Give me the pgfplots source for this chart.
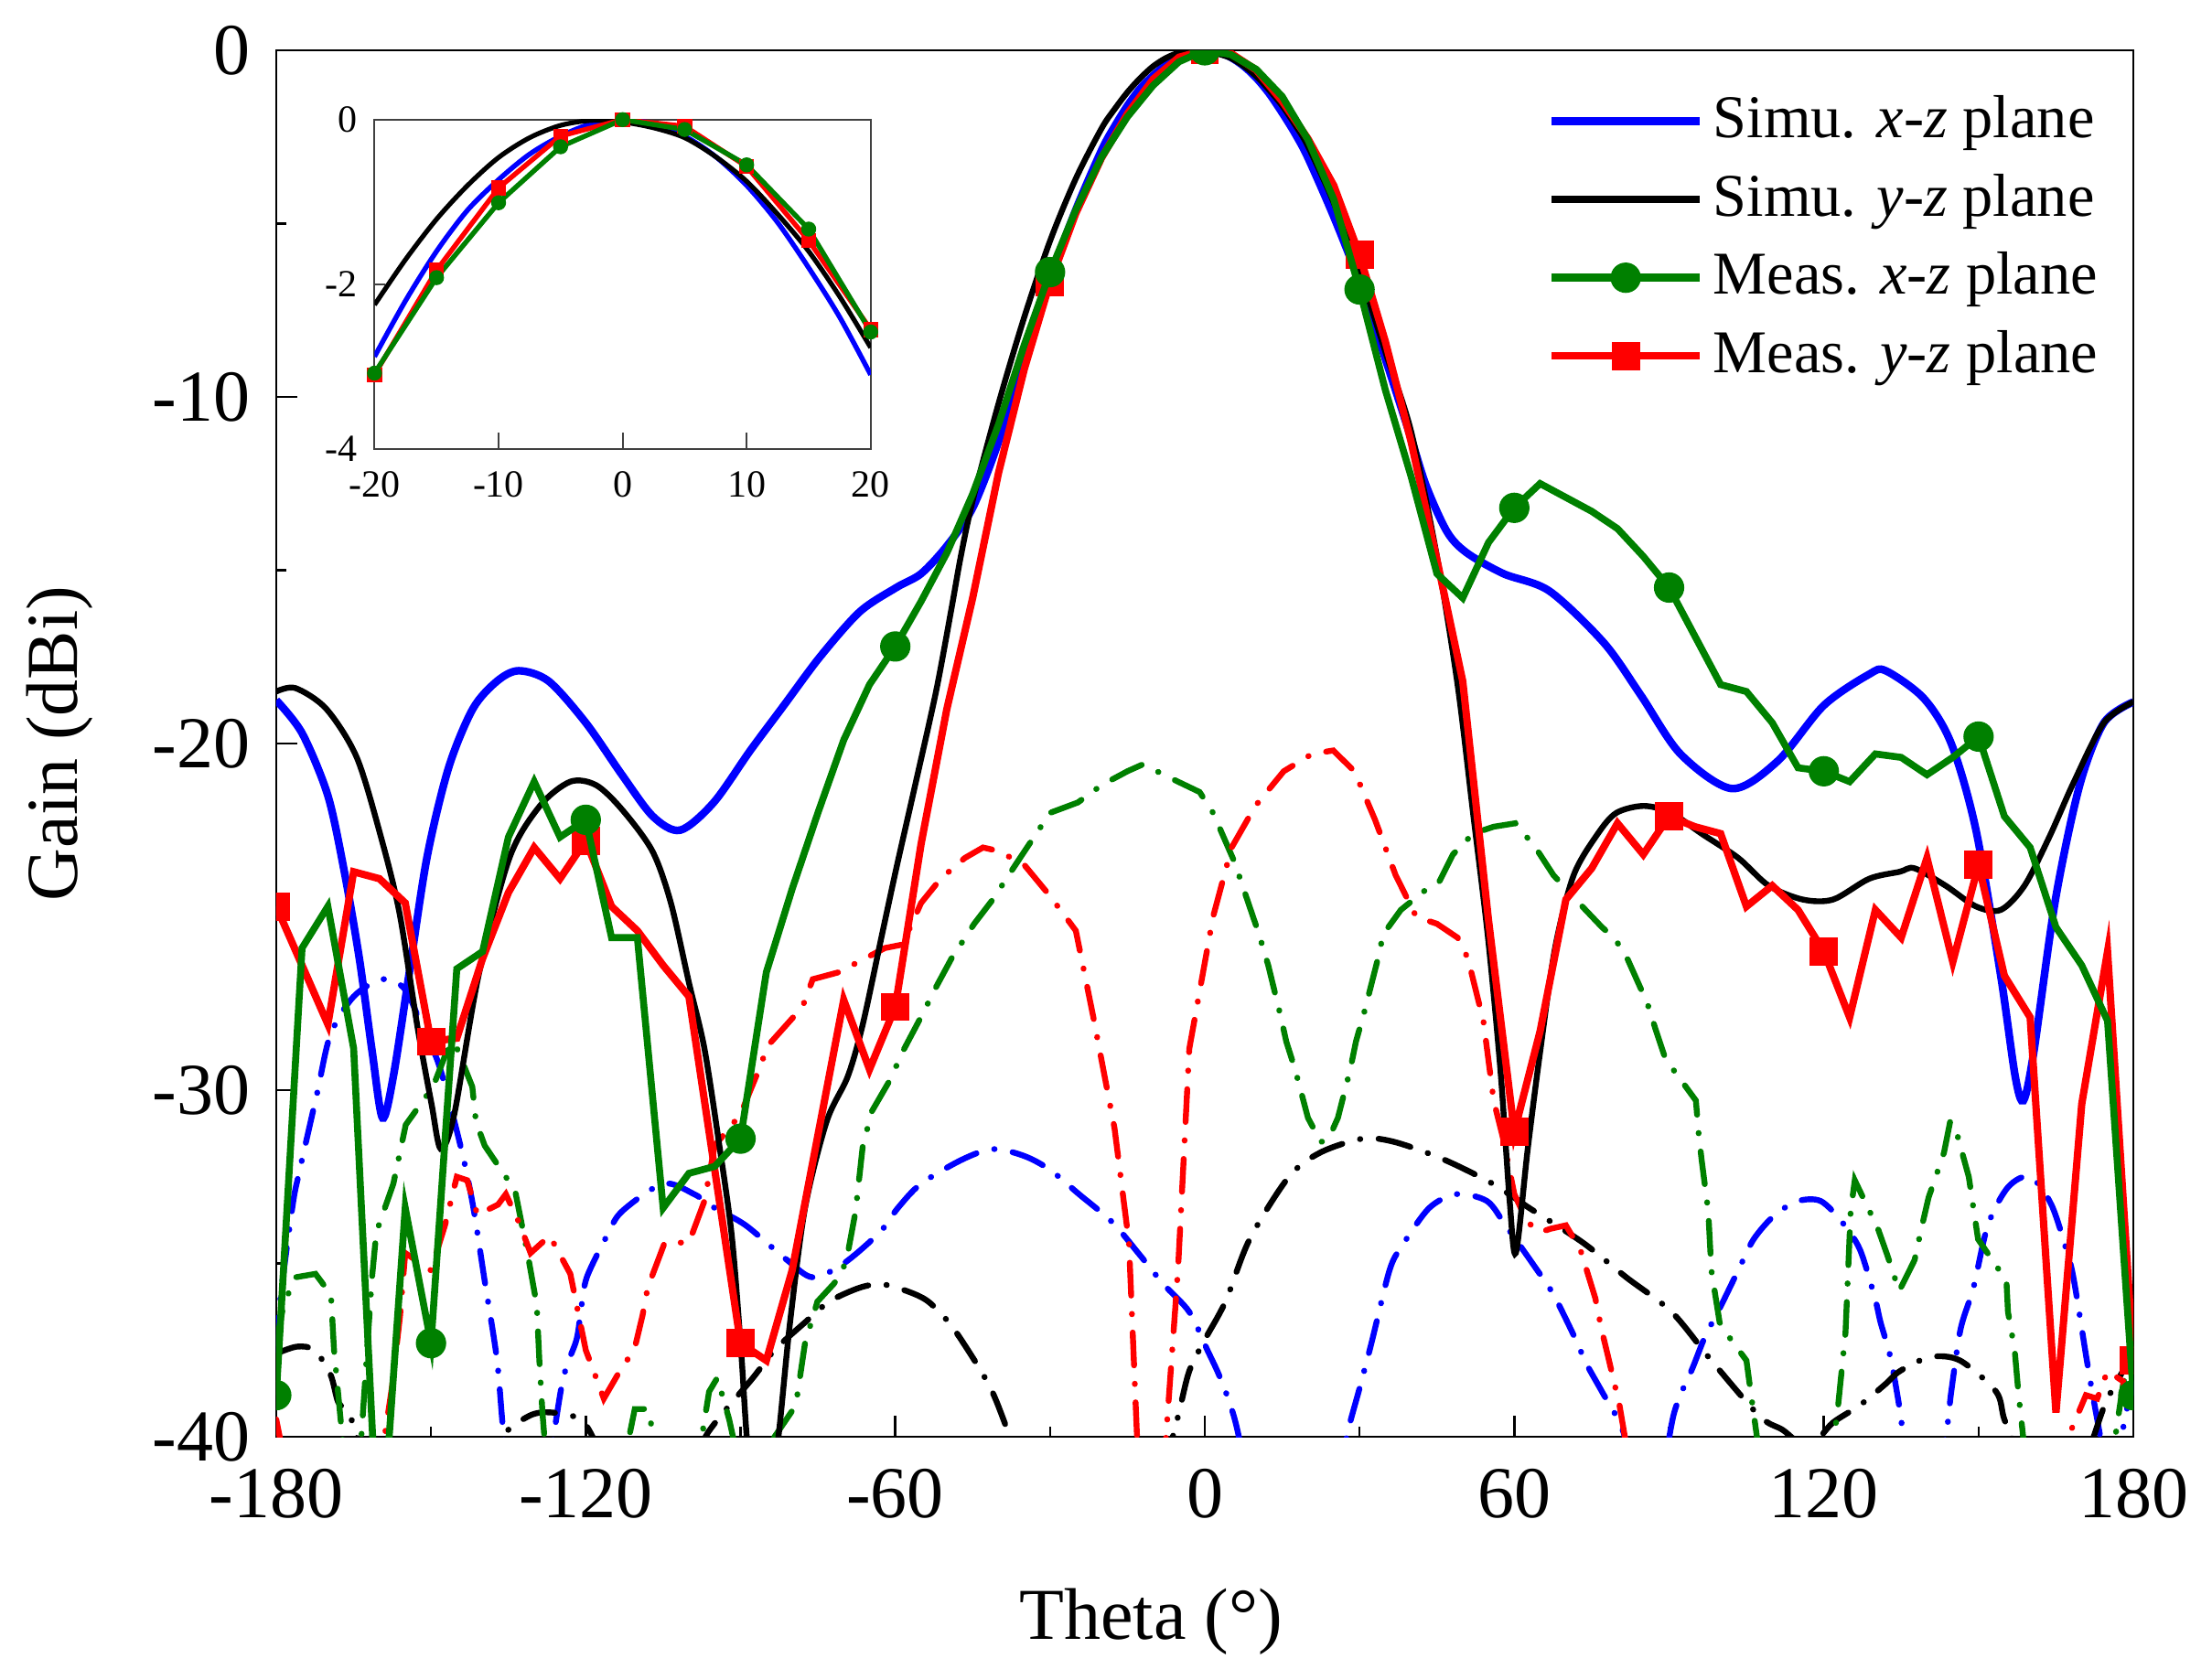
\documentclass[border=0pt]{standalone}
\usepackage{fontspec}
\setmainfont{Liberation Serif}
\usepackage{pgfplots}
\pgfplotsset{compat=1.18}
\usepackage{pgfplotstable}

\definecolor{cblue}{RGB}{0,0,255}
\definecolor{cred}{RGB}{255,0,0}
\definecolor{cgreen}{RGB}{0,128,0}

% Simulated co-pol, x-z plane
\pgfplotstableread{
x y
-180 -18.75
-175 -19.7
-170 -21.5
-166.8 -23.7
-163.9 -26.2
-161.4 -28.9
-159.4 -30.8
-157.3 -29.6
-154.3 -26.7
-150.8 -23.3
-146.6 -20.7
-141.9 -19.0
-137.2 -18.2
-133 -17.9
-127.2 -18.2
-120 -19.4
-113 -20.9
-107 -22.1
-101.7 -22.5
-95.2 -21.7
-88.1 -20.2
-81.6 -18.9
-74.6 -17.5
-66.9 -16.2
-59.8 -15.5
-55 -15.1
-50 -14.3
-45 -13.2
-40 -11.3
-35 -8.9
-30 -6.6
-25 -4.6
-20 -2.88
-17.5 -2.2
-15 -1.6
-12.5 -1.1
-10 -0.73
-7.5 -0.42
-5 -0.2
-2.5 -0.05
0 0
2.5 -0.05
5 -0.2
7.5 -0.45
10 -0.8
12.5 -1.25
15 -1.8
17.5 -2.4
20 -3.1
25 -4.8
30 -6.7
35 -8.9
40 -11.2
43 -12.6
47 -13.9
50.8 -14.5
57.9 -15.1
66.8 -15.6
77.4 -17.1
84.5 -18.6
92.2 -20.3
102.2 -21.3
111.1 -20.5
120 -18.9
128.8 -18.0
132 -17.9
139.4 -18.7
144.7 -20.0
149.5 -22.5
154.3 -26.7
157.1 -29.6
158.7 -30.3
160.7 -28.9
164.9 -24.5
169.6 -21.2
174.3 -19.4
180 -18.8
}\simxz

% Simulated co-pol, y-z plane
\pgfplotstableread{
x y
-180 -18.5
-176.3 -18.4
-170.3 -19.0
-164.4 -20.4
-159.7 -22.7
-156.1 -24.9
-152.6 -28.2
-149.9 -30.4
-148.1 -31.7
-145.5 -30.7
-140.8 -26.7
-134.8 -23.3
-128.9 -21.8
-123 -21.1
-118 -21.2
-113 -21.9
-107.1 -23.1
-103.5 -24.6
-100 -26.9
-97 -28.8
-94.1 -31.6
-91.7 -34.2
-89.9 -37.5
-88.5 -40.5
-86 -43
-84 -41.5
-82.5 -39.8
-80.4 -36.7
-77.5 -33.4
-73.3 -30.9
-69.2 -29.6
-66.3 -28.1
-62.7 -25.6
-59.8 -23.6
-56.3 -21.3
-52.1 -18.5
-49.1 -16.1
-47.3 -14.6
-45 -13.0
-40 -10.2
-35 -7.7
-30 -5.5
-25 -3.7
-20 -2.25
-17.5 -1.7
-15 -1.21
-12.5 -0.8
-10 -0.46
-7.5 -0.22
-5 -0.07
-2.5 -0.01
0 -0.03
2.5 -0.1
5 -0.22
7.5 -0.45
10 -0.75
12.5 -1.15
15 -1.6
17.5 -2.15
20 -2.77
25 -4.4
30 -6.4
35 -8.7
40 -11.0
45 -14.6
49 -18.3
52 -22.0
54.9 -25.6
57.3 -29.4
59.1 -33.2
60.3 -34.7
62.6 -31.7
65 -28.9
67.9 -25.9
71.5 -23.8
76.2 -22.6
79.8 -22.0
85.1 -21.8
90.4 -22.0
96.3 -22.6
103.4 -23.3
109.3 -24.1
115.9 -24.5
121.8 -24.5
128.8 -23.9
134.7 -23.7
137.6 -23.6
143.6 -24.1
149.5 -24.7
154.3 -24.8
158.9 -24.1
163.7 -22.7
168.5 -21.1
174.3 -19.4
180 -18.8
}\simyz

% Measured co-pol, x-z plane
\pgfplotstableread{
x y
-180 -38.8
-175 -25.9
-170 -24.7
-165 -28.8
-160 -44
-155 -33.4
-150 -37.3
-145 -26.5
-140 -26.0
-135 -22.7
-130 -21.1
-125 -22.7
-120 -22.2
-115 -25.6
-110 -25.6
-105 -33.4
-100 -32.4
-95 -32.2
-90 -31.4
-85 -26.6
-80 -24.2
-75 -22.0
-70 -19.9
-65 -18.3
-60 -17.2
-55 -15.9
-50 -14.5
-45 -12.8
-40 -10.8
-35 -8.5
-30 -6.4
-25 -4.6
-20 -3.08
-15 -1.92
-10 -1.01
-5 -0.33
0 0
5 -0.12
10 -0.55
15 -1.33
20 -2.58
25 -4.3
30 -6.9
35 -9.8
40 -12.3
45 -15.1
50 -15.8
55 -14.2
60 -13.2
65 -12.5
70 -12.9
75 -13.3
80 -13.8
85 -14.6
90 -15.5
95 -16.9
100 -18.3
105 -18.5
110 -19.4
115 -20.7
120 -20.8
125 -21.1
130 -20.3
135 -20.4
140 -20.9
145 -20.4
150 -19.8
155 -22.1
160 -23.0
165 -25.3
170 -26.4
175 -28.0
180 -38.8
}\measxz

% Measured co-pol, y-z plane
\pgfplotstableread{
x y
-180 -24.7
-175 -26.4
-170 -28.1
-165 -23.7
-160 -23.9
-155 -24.6
-150 -28.6
-145 -28.5
-140 -26.2
-135 -24.3
-130 -23.0
-125 -23.9
-120 -22.8
-115 -24.7
-110 -25.4
-105 -26.4
-100 -27.3
-95 -32.3
-90 -37.3
-85 -37.8
-80 -35.2
-75 -31.3
-70 -27.4
-65 -29.4
-60 -27.6
-55 -22.9
-50 -19.0
-45 -15.8
-40 -12.2
-35 -9.2
-30 -6.7
-25 -4.7
-20 -3.1
-15 -1.83
-10 -0.83
-5 -0.2
0 0
5 -0.08
10 -0.57
15 -1.47
20 -2.55
25 -3.9
30 -5.9
35 -8.4
40 -11.3
45 -14.7
50 -18.2
55 -25.1
60 -31.2
65 -28.3
70 -24.5
75 -23.6
80 -22.3
85 -23.2
90 -22.1
95 -22.4
100 -22.6
105 -24.7
110 -24.1
115 -24.8
120 -26.0
125 -27.9
130 -24.8
135 -25.6
140 -23.3
145 -26.3
150 -23.5
155 -26.7
160 -27.9
165 -39.3
170 -30.4
175 -26.0
180 -37.8
}\measyz

% Cross-pol: simulated x-z
\pgfplotstableread{
x y
-180 -37.5
-179.2 -36.0
-176.8 -33.3
-175.6 -32.4
-172.1 -30.1
-169.5 -28.4
-165 -27.3
-159.4 -26.8
-155 -27.1
-151.4 -28.3
-148.4 -29.3
-144.3 -31.6
-141.9 -33.3
-139.6 -35.5
-137.2 -37.8
-135.5 -40.5
-132 -43
-128 -41.5
-124.5 -38.4
-121.8 -37.2
-120.9 -36.3
-119.8 -35.4
-115.9 -34.2
-113 -33.5
-105 -32.7
-99 -33.0
-95 -33.4
-89 -33.9
-81 -34.9
-76 -35.4
-70 -35.0
-63 -34.1
-59.5 -33.4
-55 -32.7
-47 -32.0
-41 -31.7
-35 -31.9
-30 -32.3
-24.4 -33.0
-18 -33.8
-12.9 -34.7
-8 -35.6
-3 -36.4
0.5 -37.5
2.7 -38.2
5 -39.1
6.6 -40
9 -42
18 -44
26 -41.5
27.5 -40
30 -38.6
32.3 -37.3
35.8 -35.2
38.2 -34.5
43.5 -33.4
48.8 -33.0
54.7 -33.2
58.3 -33.9
64 -35.1
67.6 -35.9
71.6 -37.1
74 -37.9
77 -38.7
81 -39.8
84 -41.5
88 -41.5
91 -39.3
94.6 -38.0
97 -37.1
99.8 -36.3
103.4 -35.2
106.4 -34.3
110.5 -33.6
115 -33.2
119.4 -33.2
123.5 -33.8
127 -34.6
129.9 -36.0
131 -36.7
132.9 -37.7
134.6 -39.1
136.5 -41
140 -42.5
143.6 -40
144.7 -38.7
146.5 -36.9
149 -35.7
151.8 -33.9
155.7 -32.8
160 -32.5
164.1 -33.3
167.2 -34.7
168.5 -35.5
171.1 -37.9
173 -39.5
175 -41
177 -40.5
178.6 -39.3
180 -38.5
}\crossxz

% Cross-pol: simulated y-z
\pgfplotstableread{
x y
-180 -37.6
-176 -37.4
-172.6 -37.5
-169.5 -38.2
-168 -39.0
-166 -39.3
-164.4 -40
-162 -41.5
-150 -44
-140 -42
-136.6 -40.1
-131 -39.4
-126.6 -39.3
-121 -39.5
-118 -40.2
-114 -41.5
-105 -42.5
-99 -41
-96.4 -39.9
-87.6 -38.3
-83.4 -37.5
-77.5 -36.7
-72.8 -36.1
-66.9 -35.7
-62.6 -35.6
-57.7 -35.8
-53.6 -36.1
-49.1 -36.8
-43.8 -38.0
-40.9 -38.8
-37.8 -40
-33 -42
-20 -44
-9 -42
-7 -40.5
-5 -39.3
-3 -38.1
0 -37.2
4 -36.1
8.7 -34.3
16.3 -32.5
22.4 -31.8
30.6 -31.4
36.9 -31.5
46.3 -32.0
55.8 -32.7
62.9 -33.4
73.3 -34.4
81.7 -35.4
90.5 -36.4
98.2 -37.8
107.5 -39.4
112 -39.8
117 -40.3
121.7 -39.6
126.9 -39.1
131.8 -38.5
134.8 -38.1
140.6 -37.7
146.4 -37.8
153.4 -38.7
155 -39.5
158 -40.5
165 -42
170 -41
172.3 -40
175 -38.9
180 -37.6
}\crossyz

% Cross-pol: measured x-z
\pgfplotstableread{
x y
-180 -37.3
-178.6 -36.2
-176.3 -35.4
-172.4 -35.3
-169.4 -35.9
-168.8 -37.5
-167.4 -39.7
-165.8 -42
-163.5 -40
-161.5 -35.5
-160.6 -34.1
-157.3 -32.7
-154.9 -31.0
-149.6 -29.9
-147 -28.9
-145.5 -28.6
-142 -29.9
-141.3 -30.9
-139.6 -31.6
-133.7 -32.9
-132.5 -33.8
-131.3 -34.7
-129.5 -36.2
-129 -37.8
-128.4 -39.3
-127.5 -41
-120 -42
-112 -40.3
-110.5 -39.2
-108 -39.2
-106 -40.5
-100 -41.5
-97.5 -40
-96.1 -38.7
-94.5 -38.3
-92.2 -39.5
-90 -41
-86 -41.5
-83.4 -40
-79.3 -39.1
-78.4 -38.2
-77.5 -37.3
-75.1 -36.1
-72 -35.6
-70.4 -35.3
-69.2 -34.7
-67.7 -33.5
-66.3 -31.6
-64.5 -30.6
-61 -29.7
-58.6 -28.9
-54.7 -27.8
-52 -27.0
-49.1 -26.2
-44.7 -25.2
-41.1 -24.5
-36.7 -23.5
-30 -22.0
-24.6 -21.7
-20 -21.2
-15 -20.8
-12 -20.6
-6.6 -21.0
-1 -21.4
1.6 -22.0
5.7 -23.4
10.5 -25.5
12.3 -26.4
14.6 -27.8
15.8 -28.6
17.5 -29.4
20 -30.8
22.5 -31.5
24 -31.4
25.8 -30.8
28.2 -29.4
29.3 -28.6
31 -27.7
33.4 -26.3
34.6 -25.5
38 -24.8
43 -24.2
45.4 -24.0
48.1 -23.2
52 -22.6
56 -22.4
60.2 -22.3
64.1 -23.0
67.6 -23.8
73.8 -24.8
77 -25.3
79.3 -25.6
81.6 -26.1
85.8 -27.5
87.5 -28.3
89.3 -29.1
95.2 -30.3
95.7 -31.2
96.3 -32.0
97.6 -33.5
98.2 -35.2
99.8 -36.7
102 -37.2
105 -37.8
106 -38.9
107.5 -40.5
115 -42
121 -40.5
122.5 -39.5
124.2 -37
125.2 -33.5
126 -32.6
130.5 -34
132.4 -34.8
134.6 -35.8
137.6 -34.9
138.9 -34
140.3 -33.1
143.3 -31.8
144.5 -30.9
145.7 -31.2
148.1 -32.5
149 -33.4
149.9 -34.3
155.4 -35.5
155.7 -36.4
157 -37.5
157.7 -38.7
159 -40.5
170 -42
176 -40.5
178 -38.5
180 -37.3
}\crossmxz

% Cross-pol: measured y-z
\pgfplotstableread{
x y
-180 -39.5
-178 -41
-170 -43
-160 -41
-157.5 -38.5
-156 -36.5
-155 -34.7
-150 -35.2
-147.3 -33.9
-145 -32.5
-143 -32.6
-141 -33.6
-137 -33.3
-135.5 -33.0
-133 -33.8
-130.7 -34.7
-127 -34.2
-123 -35.3
-120 -37.5
-116.5 -38.9
-113 -38.0
-110.6 -37.5
-109 -36.5
-108 -35.7
-104.7 -34.4
-100 -34.4
-97 -33.2
-95 -31.6
-90 -30.7
-86.7 -29.5
-84.6 -28.7
-78 -27.6
-76 -26.8
-71 -26.6
-62 -25.9
-58.6 -25.8
-55 -24.6
-51.2 -23.9
-46.5 -23.3
-43 -23.0
-40 -23.1
-35 -23.5
-30 -24.4
-25 -25.4
-21.6 -27.9
-17.5 -31.1
-14.7 -34.4
-13 -40.5
-11 -44
-8 -41
-5.2 -35.2
-3 -28.8
1.6 -25.0
5.2 -23.0
9.8 -21.8
15.3 -20.8
20.8 -20.3
24.9 -20.2
29 -20.8
33 -22.2
37 -23.8
41 -25.0
45 -25.2
49 -25.6
51 -26.2
54 -28.0
56 -30.3
58 -31.5
60 -33.0
62.5 -33.8
65 -34.1
67 -34.0
70 -33.9
72.8 -34.6
75.7 -36.0
76.9 -36.9
78.2 -37.7
80.4 -39.1
82 -40.5
90 -43
120 -44
160 -42
166 -40.5
170.8 -38.8
173 -38.9
175 -38.1
178 -38.4
180 -39.5
}\crossmyz

\tikzset{dashdot/.style={dash pattern=on 9pt off 5pt on 0.1pt off 5pt, line cap=round}}

\begin{document}
\begin{tikzpicture}
\begin{axis}[
  at={(0,0)}, anchor=south west,
  scale only axis, width=507.5pt, height=379pt,
  xmin=-180, xmax=180, ymin=-40, ymax=0,
  xtick={-180,-120,...,180}, minor xtick={-150,-90,-30,30,90,150},
  ytick={-40,-30,...,0}, minor ytick={-35,-25,-15,-5},
  tick align=inside, tick pos=left,
  major tick length=5.75pt, minor tick length=2.75pt,
  axis line style={line width=0.6pt},
  every tick/.style={black, line width=0.6pt},
  /pgf/number format/assume math mode=true,
  tick label style={font=\fontsize{20}{24}\selectfont},
  xticklabel style={inner sep=0pt, anchor=north, yshift=-8.5pt},
  yticklabel style={inner sep=0pt, anchor=east, xshift=-7pt},
  xlabel={Theta (°)}, ylabel={Gain (dBi)},
  every axis x label/.style={at={(axis description cs:0.471,-0.1332)}, anchor=center, font=\fontsize{20}{24}\selectfont},
  every axis y label/.style={at={(axis description cs:-0.1167,0.5)}, rotate=90, anchor=center, font=\fontsize{20}{24}\selectfont},
  clip marker paths=true,
  legend cell align=left,
  legend style={draw=none, fill=none, at={(axis description cs:0.6847,0.970)}, anchor=north west,
    inner sep=0pt, outer sep=0pt, font=\fontsize{16.6}{20}\selectfont,
    row sep=5.4pt, column sep=2.6pt,
    nodes={inner sep=0pt, text height=12.5pt, text depth=3.5pt}},
  legend image code/.code={\draw[mark repeat=2,mark phase=2] plot coordinates {(0pt,0pt) (20.25pt,0pt) (40.5pt,0pt)};},
]
% cross-pol
\addplot[cblue, line width=1.6pt, dashdot, smooth, forget plot] table {\crossxz};
\addplot[black, line width=1.6pt, dashdot, smooth, forget plot] table {\crossyz};
\addplot[cgreen, line width=1.6pt, dashdot, forget plot] table {\crossmxz};
\addplot[cred, line width=1.6pt, dashdot, forget plot] table {\crossmyz};
% co-pol
\addplot[cblue, line width=2.1pt, smooth, forget plot] table {\simxz};
\addplot[black, line width=1.6pt, smooth, forget plot] table {\simyz};
\addplot[cred, line width=2.0pt, forget plot] table {\measyz};
\addplot[cred, only marks, mark=square*, mark size=3.6pt, each nth point=6, filter discard warning=false,
  mark options={solid, line width=0.5pt}, forget plot] table {\measyz};
\addplot[cgreen, line width=1.9pt, forget plot] table {\measxz};
\addplot[cgreen, only marks, mark=*, mark size=3.9pt, each nth point=6, filter discard warning=false,
  mark options={solid, line width=0.5pt}, forget plot] table {\measxz};

\addlegendimage{cblue, line width=2.1pt}
\addlegendentry{Simu. \textit{x}-\textit{z} plane}
\addlegendimage{black, line width=2.1pt}
\addlegendentry{Simu. \textit{y}-\textit{z} plane}
\addlegendimage{cgreen, line width=2.1pt, mark=*, mark size=3.9pt, mark options={line width=0.5pt}}
\addlegendentry{Meas. \textit{x}-\textit{z} plane}
\addlegendimage{cred, line width=2.1pt, mark=square*, mark size=3.6pt, mark options={line width=0.5pt}}
\addlegendentry{Meas. \textit{y}-\textit{z} plane}
\end{axis}

% inset
\begin{axis}[
  at={(26.85pt,270.05pt)}, anchor=south west,
  scale only axis, width=135.6pt, height=90pt,
  xmin=-20, xmax=20, ymin=-4, ymax=0,
  xtick={-20,-10,...,20}, ytick={-4,-2,0},
  tick align=inside, tick pos=left,
  xtick style={/pgfplots/major tick length=4.5pt},
  ytick style={/pgfplots/major tick length=2.8pt},
  axis line style={line width=0.5pt, black!75},
  every tick/.style={black!75, line width=0.5pt},
  axis background/.style={fill=white},
  restrict x to domain=-20:20,
  /pgf/number format/assume math mode=true,
  tick label style={font=\fontsize{10.5}{12}\selectfont},
  xticklabel style={inner sep=0pt, anchor=north, yshift=-6pt},
  yticklabel style={inner sep=0pt, anchor=east, xshift=-4.5pt},
]
\addplot[cblue, line width=1.35pt, smooth] table {\simxz};
\addplot[black, line width=1.3pt, smooth] table {\simyz};
\addplot[cred, line width=1.35pt, mark=square*, mark size=1.9pt, mark options={solid, line width=0.3pt}] table {\measyz};
\addplot[cgreen, line width=1.35pt, mark=*, mark size=1.9pt, mark options={solid, line width=0.3pt}] table {\measxz};
\end{axis}

\pgfresetboundingbox
\path[use as bounding box] (-75.5pt,-66.25pt) rectangle (529pt,392.75pt);
\end{tikzpicture}
\end{document}
